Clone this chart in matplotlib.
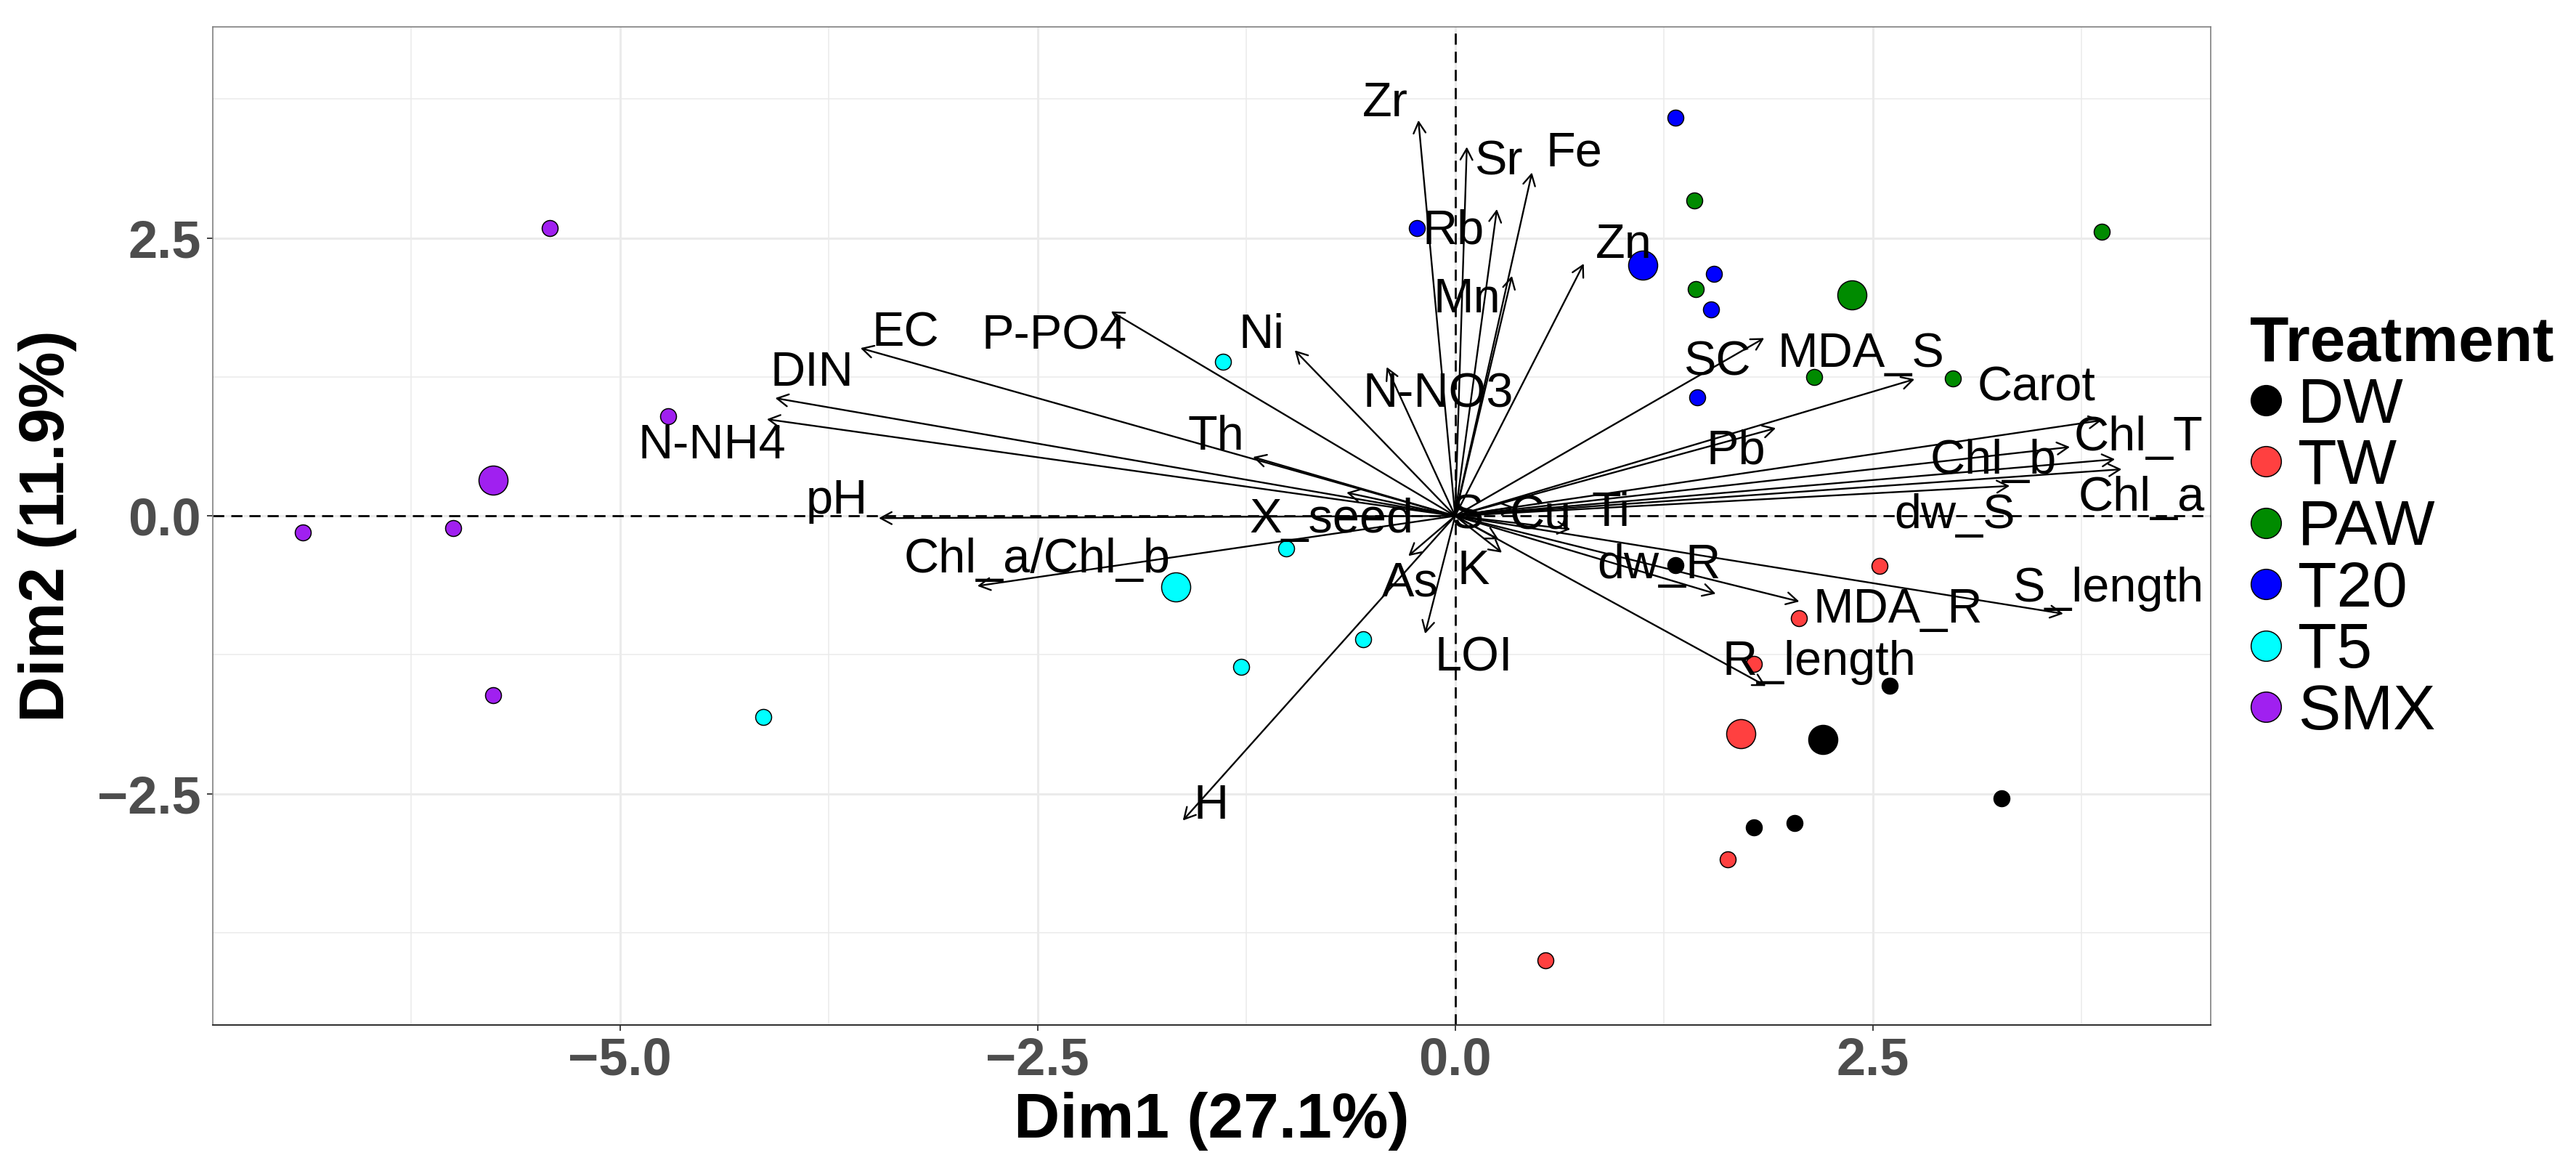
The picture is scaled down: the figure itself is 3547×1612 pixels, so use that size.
import matplotlib
matplotlib.use('Agg')
import matplotlib.pyplot as plt
from matplotlib.lines import Line2D
from matplotlib.patches import FancyArrowPatch
import numpy as np

plt.rcParams['font.family'] = ['Liberation Sans', 'DejaVu Sans']

# individuals (Dim1, Dim2) per treatment
treatments = ['DW', 'TW', 'PAW', 'T20', 'T5', 'SMX']
colors = ['#000000', '#FF4040', '#008B00', '#0000FF', '#00FFFF', '#A020F0']

dw_x = [1.32, 2.60, 3.27, 1.79, 2.03]
dw_y = [-0.44, -1.53, -2.54, -2.80, -2.76]
tw_x = [2.54, 2.06, 1.79, 1.63, 0.54]
tw_y = [-0.45, -0.92, -1.33, -3.09, -4.00]
paw_x = [1.43, 1.44, 2.15, 2.98, 3.87]
paw_y = [2.84, 2.04, 1.25, 1.24, 2.56]
t20_x = [1.32, -0.23, 1.55, 1.53, 1.45]
t20_y = [3.58, 2.59, 2.18, 1.86, 1.07]
t5_x = [-1.39, -1.01, -1.28, -0.55, -4.14]
t5_y = [1.39, -0.29, -1.36, -1.11, -1.81]
smx_x = [-5.42, -4.71, -6.90, -6.00, -5.76]
smx_y = [2.59, 0.90, -0.15, -0.11, -1.61]

groups_x = [dw_x, tw_x, paw_x, t20_x, t5_x, smx_x]
groups_y = [dw_y, tw_y, paw_y, t20_y, t5_y, smx_y]

# variables (loadings, arrow tips)
var_names = ['Zr', 'Sr', 'Fe', 'Rb', 'Mn', 'Zn', 'SC', 'MDA_S', 'Carot', 'Chl_T',
             'Chl_b', 'Chl_a', 'dw_S', 'Pb', 'Cu', 'Ti', 'S', 'K', 'As', 'LOI',
             'H', 'Chl_a/Chl_b', 'pH', 'X_seed', 'Th', 'N-NH4', 'DIN', 'EC',
             'P-PO4', 'Ni', 'N-NO3', 'dw_R', 'MDA_R', 'S_length', 'R_length']
var_x = [-0.22, 0.07, 0.46, 0.25, 0.34, 0.77, 1.85, 2.75, 3.87, 3.95,
         3.68, 3.99, 3.32, 1.92, 0.69, 0.35, 0.26, 0.28, -0.28, -0.18,
         -1.63, -2.86, -3.45, -0.65, -1.21, -4.12, -4.07, -3.56,
         -2.06, -0.96, -0.41, 1.56, 2.06, 3.64, 1.86]
var_y = [3.56, 3.32, 3.09, 2.76, 2.16, 2.27, 1.60, 1.23, 0.86, 0.51,
         0.62, 0.42, 0.27, 0.79, -0.12, 0.08, -0.21, -0.33, -0.36, -1.06,
         -2.74, -0.63, -0.02, 0.21, 0.53, 0.87, 1.06, 1.51,
         1.84, 1.49, 1.34, -0.70, -0.77, -0.88, -1.53]

# where the (repelled) variable labels ended up
label_pos = {
    'Zr': (-0.42, 3.71), 'Sr': (0.26, 3.18), 'Fe': (0.71, 3.26), 'Rb': (-0.01, 2.56),
    'Mn': (0.07, 1.94), 'Zn': (1.01, 2.43), 'SC': (1.57, 1.38), 'MDA_S': (2.43, 1.45),
    'Carot': (3.48, 1.15), 'Chl_T': (4.09, 0.70), 'Chl_b': (3.22, 0.49),
    'Chl_a': (4.11, 0.16), 'dw_S': (2.99, 0.00), 'Pb': (1.68, 0.58), 'Cu': (0.51, -0.01),
    'Ti': (0.93, 0.02), 'S': (0.07, 0.00), 'K': (0.11, -0.50), 'As': (-0.27, -0.61),
    'LOI': (0.11, -1.28), 'H': (-1.46, -2.61), 'Chl_a/Chl_b': (-2.50, -0.40),
    'pH': (-3.70, 0.13), 'X_seed': (-0.74, -0.04), 'Th': (-1.43, 0.71),
    'N-NH4': (-4.45, 0.63), 'DIN': (-3.85, 1.28), 'EC': (-3.29, 1.64),
    'P-PO4': (-2.40, 1.61), 'Ni': (-1.16, 1.62), 'N-NO3': (-0.10, 1.09),
    'dw_R': (1.22, -0.45), 'MDA_R': (2.65, -0.85), 'S_length': (3.91, -0.66),
    'R_length': (2.18, -1.32),
}

W, H = 3547, 1612
fig = plt.figure(figsize=(W / 100, H / 100), dpi=100)
ax = fig.add_axes([293 / W, 1 - 1411 / H, (3044 - 293) / W, (1411 - 37) / H])

ax.set_xlim(-7.437, 4.523)
ax.set_ylim(-4.58, 4.40)

ax.set_xticks([-5, -2.5, 0, 2.5])
ax.set_xticks([-6.25, -3.75, -1.25, 1.25, 3.75], minor=True)
ax.set_yticks([-2.5, 0, 2.5])
ax.set_yticks([-3.75, -1.25, 1.25, 3.75], minor=True)
ax.set_xticklabels(['\u22125.0', '\u22122.5', '0.0', '2.5'])
ax.set_yticklabels(['\u22122.5', '0.0', '2.5'])

ax.grid(which='major', color='#EBEBEB', lw=2.2, zorder=0)
ax.grid(which='minor', color='#EBEBEB', lw=1.1, zorder=0)
ax.set_axisbelow(True)

ax.tick_params(which='major', length=5.5, width=1.3, color='#333333', pad=6,
               labelsize=52, labelcolor='#4D4D4D')
ax.tick_params(which='minor', length=0)
for t in ax.get_xticklabels() + ax.get_yticklabels():
    t.set_fontweight('bold')

for side in ['top', 'right', 'left']:
    ax.spines[side].set_color('#808080')
    ax.spines[side].set_linewidth(1.2)
ax.spines['bottom'].set_color('#333333')
ax.spines['bottom'].set_linewidth(1.5)

ax.axhline(0, color='black', lw=2.0, ls=(0, (5.5, 3.5)), zorder=1)
ax.axvline(0, color='black', lw=2.0, ls=(0, (5.5, 3.5)), zorder=1)

# individuals + group means
for name, gx, gy, c in zip(treatments, groups_x, groups_y, colors):
    ax.scatter(gx, gy, s=250, color=c, edgecolors='black', linewidths=1.1, zorder=3)
    ax.scatter(np.mean(gx), np.mean(gy), s=830, color=c, edgecolors='black',
               linewidths=1.1, zorder=3)

# variable arrows
for name, vx, vy in zip(var_names, var_x, var_y):
    arr = FancyArrowPatch((0, 0), (vx, vy),
                          arrowstyle='->,head_length=0.55,head_width=0.3',
                          mutation_scale=20, lw=1.7, color='black',
                          shrinkA=0, shrinkB=0, zorder=4)
    ax.add_patch(arr)
    lx, ly = label_pos[name]
    ax.text(lx, ly, name, fontsize=48, ha='center', va='center', color='black', zorder=5)

ax.set_xlabel('Dim1 (27.1%)', fontsize=63, fontweight='bold')
ax.set_ylabel('Dim2 (11.9%)', fontsize=63, fontweight='bold')
ax.xaxis.set_label_coords(0.5, -0.067)
ax.yaxis.set_label_coords(-0.068, 0.5)

handles = [Line2D([], [], ls='', marker='o', ms=30, markerfacecolor=c,
                  markeredgecolor='black', markeredgewidth=1.1) for c in colors]
ax.legend(handles, treatments, title='Treatment', loc='upper left',
          bbox_to_anchor=(3098 / W, 1 - 434 / H), bbox_transform=fig.transFigure,
          frameon=False, fontsize=63, title_fontproperties={'weight': 'bold', 'size': 63},
          alignment='left', handlelength=0.5, handletextpad=0.25, labelspacing=0.04,
          borderpad=0, borderaxespad=0)

fig.savefig('out.png', dpi=100)
